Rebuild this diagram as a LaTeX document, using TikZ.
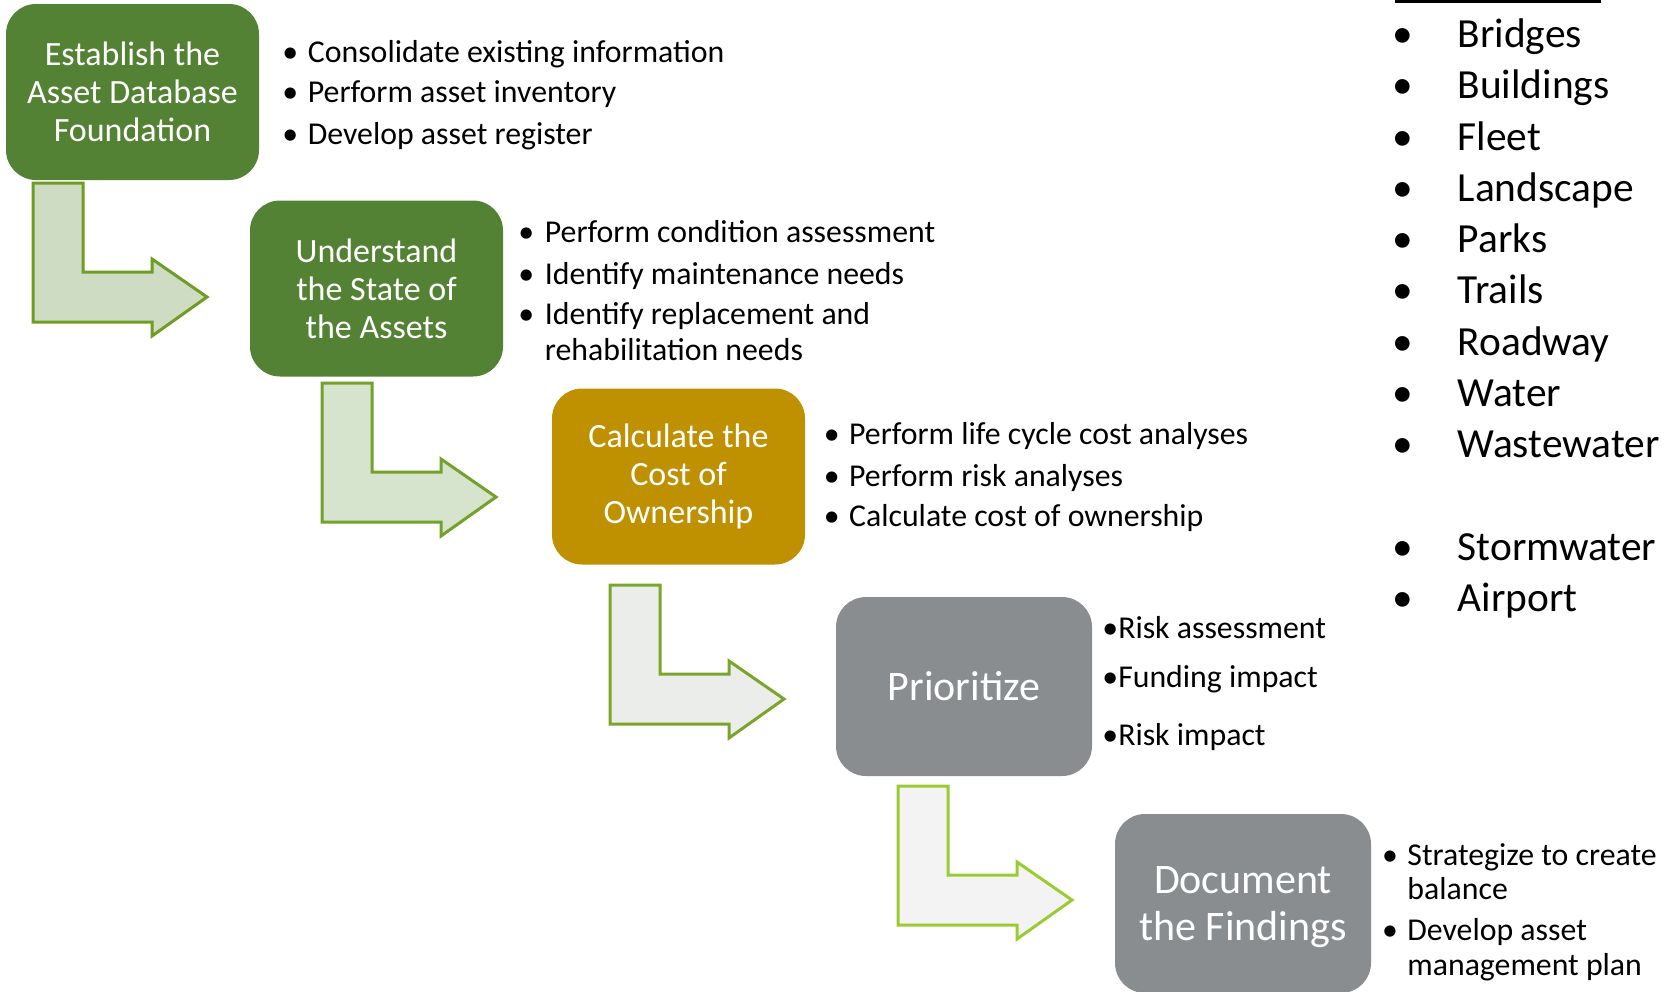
\documentclass[tikz,border=0pt]{standalone}
\usepackage{fontspec}
\setmainfont{Carlito}
\definecolor{boxgreen}{HTML}{548235}
\definecolor{boxgold}{HTML}{BF9000}
\definecolor{boxgrey}{HTML}{8A8D8F}
\definecolor{aonefill}{HTML}{CDDCC3}
\definecolor{aonedraw}{HTML}{6F9C22}
\definecolor{atwofill}{HTML}{D6E3CD}
\definecolor{atwodraw}{HTML}{73A12A}
\definecolor{athreefill}{HTML}{EBEDEB}
\definecolor{athreedraw}{HTML}{7AA52A}
\definecolor{afourfill}{HTML}{F2F3F2}
\definecolor{afourdraw}{HTML}{9BCB33}
\tikzset{
  stepbox/.style={rounded corners=15pt, text=white, align=center, inner sep=0pt,
    font=\fontsize{17}{19}\selectfont, minimum width=126.5pt, minimum height=88pt},
  bigbox/.style={stepbox, font=\fontsize{21}{23.5}\selectfont, minimum width=128pt, minimum height=89.5pt},
  item/.style={anchor=west, inner sep=0pt, font=\fontsize{15.9}{19}\selectfont, text height=11pt, text depth=3pt, yshift=-1.5pt},
  bul/.style={anchor=center, inner sep=0pt, font=\fontsize{15.9}{19}\selectfont, text height=11pt, text depth=3pt, yshift=-1.5pt},
  bigitem/.style={anchor=west, inner sep=0pt, font=\fontsize{20.7}{24}\selectfont, text height=14.5pt, text depth=4pt, yshift=-1.5pt},
  bigbul/.style={anchor=center, inner sep=0pt, font=\fontsize{20.7}{24}\selectfont, text height=14.5pt, text depth=4pt, yshift=-1.5pt},
  bentarrow/.pic={\path[pic actions] (0,0) -- (50,0) -- (50,89) -- (119,89) -- (119,76) -- (174,114) -- (119,153) -- (119,139) -- (0,139) -- cycle;},
  arrowline/.style={line width=1.5pt, line join=miter}
}
\begin{document}
\begin{tikzpicture}[x=0.5pt,y=-0.5pt]
\useasboundingbox (0,0) rectangle (1674,991);
\clip (0,0) rectangle (1674,991);

% bent arrows
\path (33,183) pic[draw=aonedraw, fill=aonefill, arrowline] {bentarrow};
\path (322,383) pic[draw=atwodraw, fill=atwofill, arrowline] {bentarrow};
\path (610,585) pic[draw=athreedraw, fill=athreefill, arrowline] {bentarrow};
\path (898,786) pic[draw=afourdraw, fill=afourfill, arrowline] {bentarrow};

% boxes
\node[stepbox, fill=boxgreen] (s1) at (132.5,92) {Establish the\\Asset Database\\Foundation};
\node[stepbox, fill=boxgreen] (s2) at (376.5,288.5) {Understand\\the State of\\the Assets};
\node[stepbox, fill=boxgold] (s3) at (678.5,476.5) {Calculate the\\Cost of\\Ownership};
\node[bigbox, fill=boxgrey] (s4) at (964,686.5) {Prioritize};
\node[bigbox, fill=boxgrey] (s5) at (1243,903.5) {};
\node[align=center, text=white, inner sep=0pt, font=\fontsize{21}{23.5}\selectfont] (s5t) at (1243,907.5) {Document\\the Findings};

% list 1
\node[bul] (b1a) at (290.4,51.2) {•};
\node[item] (t1a) at (307.5,51.2) {Consolidate existing information};
\node[bul] (b1b) at (290.4,91.8) {•};
\node[item] (t1b) at (307.5,91.8) {Perform asset inventory};
\node[bul] (b1c) at (290.4,133.5) {•};
\node[item] (t1c) at (307.5,133.5) {Develop asset register};

% list 2
\node[bul] (b2a) at (526.3,231.7) {•};
\node[item] (t2a) at (544.5,231.7) {Perform condition assessment};
\node[bul] (b2b) at (526.3,273.3) {•};
\node[item] (t2b) at (544.5,273.3) {Identify maintenance needs};
\node[bul] (b2c) at (526.3,313.9) {•};
\node[item] (t2c) at (544.5,313.9) {Identify replacement and};
\node[item] (t2d) at (544.5,349.1) {rehabilitation needs};

% list 3
\node[bul] (b3a) at (831.7,433.4) {•};
\node[item] (t3a) at (848.7,433.4) {Perform life cycle cost analyses};
\node[bul] (b3b) at (831.7,475.1) {•};
\node[item] (t3b) at (848.7,475.1) {Perform risk analyses};
\node[bul] (b3c) at (831.7,515.7) {•};
\node[item] (t3c) at (848.7,515.7) {Calculate cost of ownership};

% list 4
\node[item] (t4a) at (1102,627.7) {•Risk assessment};
\node[item] (t4b) at (1102,676.9) {•Funding impact};
\node[item] (t4c) at (1102,734.5) {•Risk impact};

% list 5
\node[bul] (b5a) at (1390,854) {•};
\node[item] (t5a) at (1407,854) {Strategize to create};
\node[item] (t5b) at (1407,888.2) {balance};
\node[bul] (b5c) at (1390,929.9) {•};
\node[item] (t5c) at (1407,929.9) {Develop asset};
\node[item] (t5d) at (1407,964) {management plan};

% right list
\draw[line width=1.5pt] (1395,1.5) -- (1601,1.5);
\foreach \y/\t [count=\i] in {34.2/Bridges, 85.4/Buildings, 136.7/Fleet, 187.9/Landscape, 239.1/Parks, 290.4/Trails, 341.6/Roadway, 392.9/Water, 444.1/Wastewater, 546.6/Stormwater, 597.9/Airport}{
  \node[bigbul] (rb\i) at (1402.8,\y) {•};
  \node[bigitem] (rt\i) at (1457.3,\y) {\t};
}
\end{tikzpicture}
\end{document}
